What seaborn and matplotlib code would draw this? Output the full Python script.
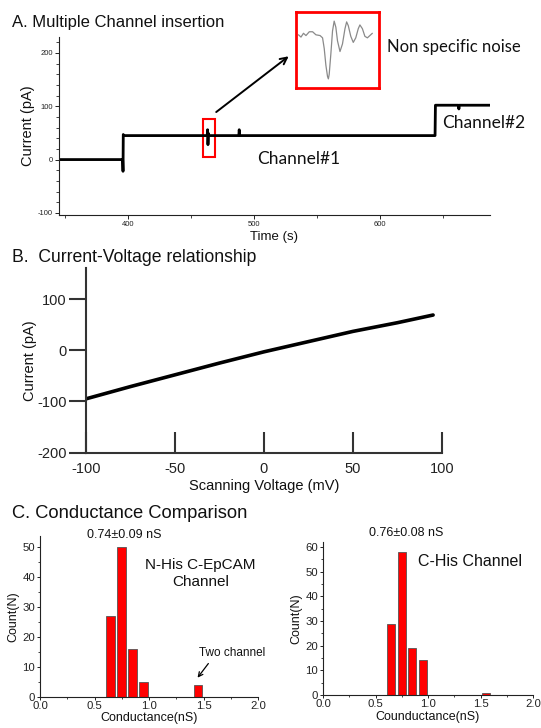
import matplotlib
matplotlib.use("Agg")
import matplotlib.pyplot as plt
from matplotlib.patches import Rectangle
from matplotlib.ticker import MultipleLocator
import numpy as np
import pandas as pd
import seaborn as sns

# ---------------- data ----------------
# Panel A: current trace (step insertions)
trace_time = [345, 395.5, 395.8, 396.0, 396.3, 462.6, 462.9, 463.2, 463.6, 464.0,
              487.7, 488.0, 488.4, 643.4, 643.7, 662.0, 662.3, 662.6, 687]
trace_current = [0, 0, -22, 47, 45, 45, 56, 28, 49, 45,
                 45, 56, 45, 45, 102, 102, 95, 102, 102]
# Inset: zoomed non-specific noise waveform (relative units)
inset_x = [0.03, 0.06, 0.09, 0.12, 0.16, 0.20, 0.24, 0.29, 0.32, 0.34, 0.36, 0.38,
           0.39, 0.40, 0.42, 0.44, 0.46, 0.48, 0.50, 0.53, 0.56, 0.59, 0.61, 0.63,
           0.66, 0.69, 0.72, 0.75, 0.77, 0.80, 0.83, 0.86, 0.89, 0.92]
inset_y = [0.70, 0.67, 0.72, 0.69, 0.74, 0.74, 0.70, 0.69, 0.66, 0.52, 0.30, 0.15,
           0.12, 0.18, 0.45, 0.75, 0.88, 0.80, 0.62, 0.48, 0.58, 0.78, 0.87, 0.82,
           0.68, 0.60, 0.66, 0.78, 0.83, 0.78, 0.68, 0.66, 0.69, 0.72]
# Panel B: I-V relationship
iv_voltage = [-100, -75, -50, -25, 0, 25, 50, 75, 95]
iv_current = [-95, -71, -48, -25, -3, 17, 37, 54, 69]
# Panel C: conductance histograms
nhis_bins = [0.65, 0.75, 0.85, 0.95, 1.45]
nhis_counts = [27, 50, 16, 5, 4]
chis_bins = [0.65, 0.75, 0.85, 0.95, 1.55]
chis_counts = [29, 58, 19, 14, 1]

# ---------------- style ----------------
sns.set_theme(style="ticks")
plt.rcParams["font.family"] = ["Liberation Sans", "DejaVu Sans"]
plt.rcParams["axes.unicode_minus"] = False
plt.rcParams["axes.edgecolor"] = "#222222"
plt.rcParams["xtick.color"] = "#222222"
plt.rcParams["ytick.color"] = "#222222"
plt.rcParams["text.color"] = "#111111"
plt.rcParams["axes.labelcolor"] = "#111111"

W, H = 541, 728
fig = plt.figure(figsize=(W / 100, H / 100), dpi=100)


def box(x0, y0, x1, y1):
    return [x0 / W, 1 - y1 / H, (x1 - x0) / W, (y1 - y0) / H]


# ---------------- Panel A ----------------
axA = fig.add_axes(box(59, 37, 490, 215))
dfA = pd.DataFrame({"t": trace_time, "i": trace_current})
sns.lineplot(data=dfA, x="t", y="i", estimator=None, sort=False, color="black",
             lw=2.0, ax=axA)
axA.set_xlim(345, 687)
axA.set_ylim(-104, 230)
axA.xaxis.set_major_locator(MultipleLocator(100))
axA.xaxis.set_minor_locator(MultipleLocator(50))
axA.yaxis.set_major_locator(MultipleLocator(100))
axA.yaxis.set_minor_locator(MultipleLocator(20))
axA.tick_params(which="major", labelsize=5.5, length=3, width=0.7, pad=1.5)
axA.tick_params(which="minor", length=2, width=0.6)
for s in ["top", "right"]:
    axA.spines[s].set_visible(False)
for s in ["left", "bottom"]:
    axA.spines[s].set_linewidth(0.8)
axA.set_xlabel("Time (s)", fontsize=9.5, labelpad=2)
axA.set_ylabel("Current (pA)", fontsize=10.5, labelpad=2)
axA.add_patch(Rectangle((459, 5), 10, 72, fill=False, edgecolor="red", lw=1.5))
axA.annotate("", xy=(529, 197), xytext=(468, 86),
             arrowprops=dict(arrowstyle="->", color="black", lw=1.4,
                             mutation_scale=12))
axA.text(502, 2, "Channel#1", fontsize=12.5, family="Lato", ha="left", va="center")
axA.text(649, 69, "Channel#2", fontsize=12.5, family="Lato", ha="left", va="center")
axA.text(605, 212, "Non specific noise", fontsize=12, family="Lato",
         ha="left", va="center")

# inset
axI = fig.add_axes(box(296, 12, 379, 88))
dfI = pd.DataFrame({"x": inset_x, "y": inset_y})
sns.lineplot(data=dfI, x="x", y="y", estimator=None, sort=False, color="#8a8a8a",
             lw=0.9, ax=axI)
axI.set_xlim(0, 1)
axI.set_ylim(0, 1)
axI.set_xticks([])
axI.set_yticks([])
axI.set_xlabel("")
axI.set_ylabel("")
for s in axI.spines.values():
    s.set_edgecolor("red")
    s.set_linewidth(2)

fig.text(12 / W, 1 - 23 / H, "A. Multiple Channel insertion", fontsize=12,
         ha="left", va="center")

# ---------------- Panel B ----------------
axB = fig.add_axes(box(86, 268, 442, 452.5))
dfB = pd.DataFrame({"v": iv_voltage, "i": iv_current})
sns.lineplot(data=dfB, x="v", y="i", estimator=None, color="black", lw=2.6, ax=axB)
axB.set_xlim(-100, 100)
axB.set_ylim(-200, 161)
axB.set_xticks([-100, -50, 0, 50, 100])
axB.set_yticks([-200, -100, 0, 100])
for s in ["top", "right"]:
    axB.spines[s].set_visible(False)
for s in ["left", "bottom"]:
    axB.spines[s].set_linewidth(1.5)
    axB.spines[s].set_color("#333333")
axB.tick_params(axis="x", direction="in", length=15, width=1.5, labelsize=10.5,
                pad=7, color="#333333")
axB.tick_params(axis="y", direction="out", length=12, width=1.5, labelsize=10.5,
                pad=2, color="#333333")
axB.set_xlabel("Scanning Voltage (mV)", fontsize=10.5, labelpad=2)
axB.set_ylabel("Current (pA)", fontsize=10.5, labelpad=0)
fig.text(12 / W, 1 - 257 / H, "B.  Current-Voltage relationship", fontsize=12.7,
         ha="left", va="center")

# ---------------- Panel C ----------------
fig.text(12 / W, 1 - 514 / H, "C. Conductance Comparison", fontsize=13.2,
         ha="left", va="center")


def hist_panel(ax, bins, counts, ymax, ystep, xlabel):
    sns.barplot(x=bins, y=counts, native_scale=True, width=0.8, color="red",
                saturation=1, edgecolor="#555555", linewidth=0.6, errorbar=None,
                ax=ax)
    ax.set_xlim(0, 2.0)
    ax.set_ylim(0, ymax)
    ax.xaxis.set_major_locator(MultipleLocator(0.5))
    ax.xaxis.set_minor_locator(MultipleLocator(0.25))
    ax.yaxis.set_major_locator(MultipleLocator(ystep))
    ax.yaxis.set_minor_locator(MultipleLocator(ystep / 2))
    ax.xaxis.set_major_formatter(matplotlib.ticker.FormatStrFormatter("%.1f"))
    ax.tick_params(which="major", labelsize=8.2, length=2.5, width=0.7, pad=1)
    ax.tick_params(axis="x", which="major", pad=0.5)
    ax.tick_params(which="minor", length=1.6, width=0.6)
    for s in ["top", "right"]:
        ax.spines[s].set_visible(False)
    for s in ["left", "bottom"]:
        ax.spines[s].set_linewidth(0.8)
    ax.set_xlabel(xlabel, fontsize=9, labelpad=1)
    ax.set_ylabel("Count(N)", fontsize=9, labelpad=2)


axC1 = fig.add_axes(box(40, 536, 258, 696.7))
hist_panel(axC1, nhis_bins, nhis_counts, 53.6, 10, "Conductance(nS)")
axC1.text(0.43, 54, "0.74\u00b10.09 nS", fontsize=9, ha="left", va="center")
axC1.text(1.47, 41, "N-His C-EpCAM\nChannel", fontsize=11, ha="center",
          va="center", linespacing=1.25)
axC1.text(1.46, 14.5, "Two channel", fontsize=8.5, ha="left", va="center")
axC1.annotate("", xy=(1.43, 5.6), xytext=(1.56, 11.8),
              arrowprops=dict(arrowstyle="->", color="black", lw=0.9,
                              mutation_scale=8))

axC2 = fig.add_axes(box(323, 541.7, 533, 695))
hist_panel(axC2, chis_bins, chis_counts, 62.2, 10, "Counductance(nS)")
axC2.text(0.44, 65.7, "0.76\u00b10.08 nS", fontsize=9, ha="left", va="center")
axC2.text(0.905, 54.3, "C-His Channel", fontsize=11.5, ha="left", va="center")

fig.savefig("out.png", dpi=100)
